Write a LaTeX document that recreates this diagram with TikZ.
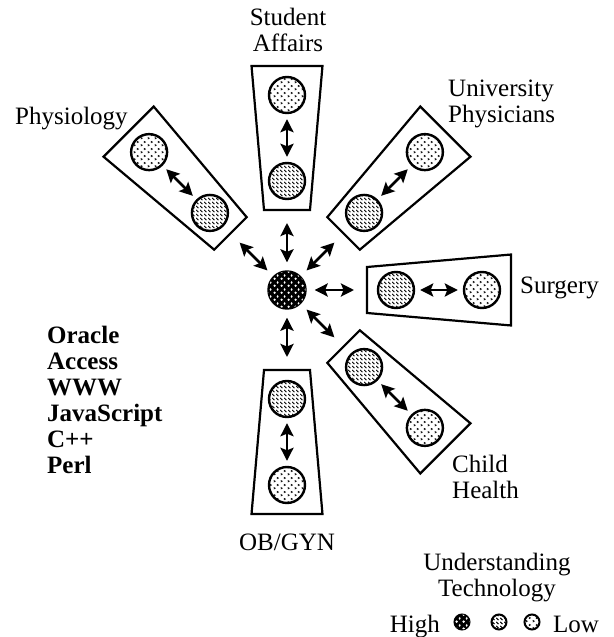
\documentclass[tikz,border=0pt]{standalone}
\usepackage{fontspec}
\setmainfont{Liberation Serif}
\usetikzlibrary{arrows.meta,patterns.meta}

\tikzdeclarepattern{
  name=hightech, type=uncolored,
  bounding box={(0pt,0pt) and (7pt,7pt)}, tile size={(7pt,7pt)},
  code={\fill (1.8pt,1.5pt) circle (1.4pt); \fill (5.2pt,5pt) ellipse (1.1pt and 1.6pt);}
}
\tikzdeclarepattern{
  name=midtech, type=uncolored,
  bounding box={(0pt,0pt) and (4pt,4pt)}, tile size={(4pt,4pt)},
  code={\draw[line width=1.1pt] (0.3pt,3.7pt) -- (3pt,1pt);}
}
\tikzdeclarepattern{
  name=lowtech, type=uncolored,
  bounding box={(0pt,0pt) and (7pt,7pt)}, tile size={(7pt,7pt)},
  code={\draw[line width=0.7pt] (0.8pt,3pt) -- (2.6pt,2pt) -- (0.8pt,1pt);
        \draw[line width=0.7pt] (4.3pt,6.5pt) -- (6.1pt,5.5pt) -- (4.3pt,4.5pt);}
}

\begin{document}
\begin{tikzpicture}[x=1pt,y=1pt,
  armbox/.style={draw,line width=2.2pt},
  techcirc/.style={circle,draw,line width=2.4pt,minimum size=36pt,inner sep=0pt},
  high/.style={techcirc,minimum size=37pt,fill=black,postaction={pattern=hightech,pattern color=white}},
  mid/.style={techcirc,pattern=midtech},
  low/.style={techcirc,pattern=lowtech},
  keycirc/.style={line width=2pt,minimum size=15pt},
  link/.style={line width=2.6pt,{Stealth[length=13pt,width=13pt,inset=2.5pt]}-{Stealth[length=13pt,width=13pt,inset=2.5pt]}},
  lbl/.style={inner sep=0pt,font=\fontsize{25}{26}\selectfont}]
  \useasboundingbox (-287,-347) rectangle (326,290);
  \node[high] (hub) at (0,0) {};
  \foreach \a/\n in {90/sa,45/up,0/su,-45/ch,-90/ob,135/ph}{
    \draw[armbox] ({\a+16.04}:83.2) -- ({\a+9}:226.8) -- ({\a-9}:226.8) -- ({\a-16.04}:83.2) -- cycle;
    \node[mid] (\n-in) at (\a:109) {};
    \node[low] (\n-out) at (\a:195) {};
    \coordinate (\n-gap) at (\a:67);
    \draw[link,shorten <=5pt,shorten >=5pt] (\n-in) -- (\n-out);
    \draw[link,shorten <=8pt] (hub) -- (\n-gap);
  }
  % arm labels
  \node[lbl,align=center,anchor=south] (sa-name) at (1,238) {Student\\Affairs};
  \node[lbl,anchor=base west] (ph-name) at (-272,165) {Physiology};
  \node[lbl,align=left,anchor=north west] (up-name) at (161,210) {University\\Physicians};
  \node[lbl,anchor=base west] (su-name) at (233,-3) {Surgery};
  \node[lbl,align=left,anchor=north west] (ch-name) at (165,-165) {Child\\Health};
  \node[lbl,anchor=base] (ob-name) at (0,-260) {OB/GYN};
  % tools
  \node[lbl,align=left,anchor=north west,font=\fontsize{25}{26}\selectfont\bfseries] (tools) at (-240,-36)
    {Oracle\\Access\\WWW\\JavaScript\\C++\\Perl};
  % key
  \node[lbl,align=center,anchor=north] (key) at (210,-263) {Understanding\\Technology};
  \node[lbl,anchor=base east] (key-high) at (153,-342) {High};
  \node[high,keycirc] (key-c1) at (175,-332) {};
  \node[mid,keycirc] (key-c2) at (212,-332) {};
  \node[low,keycirc] (key-c3) at (245,-332) {};
  \node[lbl,anchor=base west] (key-low) at (266,-342) {Low};
\end{tikzpicture}
\end{document}
